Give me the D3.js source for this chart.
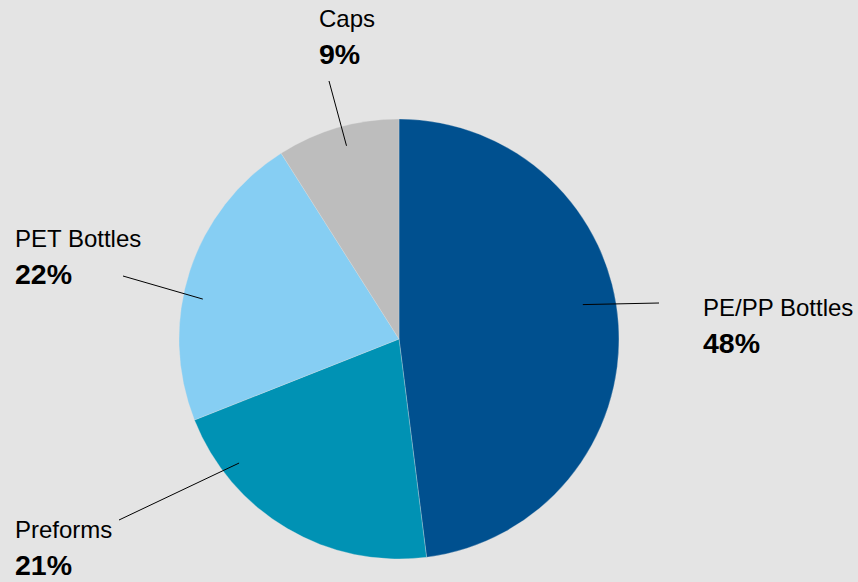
<!DOCTYPE html>
<html>
<head>
<meta charset="utf-8">
<script src="https://cdn.jsdelivr.net/npm/d3@7"></script>
<style>
  html, body { margin: 0; padding: 0; background: #e4e4e4; }
  svg { display: block; font-family: "Liberation Sans", Arial, sans-serif; }
</style>
</head>
<body>
<div id="chart"></div>
<script>
// chart data
var categories = ["PE/PP Bottles", "Preforms", "PET Bottles", "Caps"];
var shares = [48, 21, 22, 9];
var colors = ["#00508f", "#0092b4", "#86cef3", "#bdbdbd"];

// where each label sits, and how the leader line meets the slice
var labelPos = [
  { x: 703, y: 316, lx: 659, ly: 303, da: -7, rr: 0.85 },
  { x: 15, y: 538, lx: 119, ly: 520, da: 21.6, rr: 0.92 },
  { x: 15, y: 247, lx: 123, ly: 276, da: -6.5, rr: 0.91 },
  { x: 319, y: 27, lx: 329, ly: 81, da: 1, rr: 0.91 }
];

var width = 858, height = 582;
var cx = 399, cy = 339, radius = 220;

var svg = d3.select("#chart").append("svg")
  .attr("width", width)
  .attr("height", height);

svg.append("rect")
  .attr("width", width)
  .attr("height", height)
  .attr("fill", "#e4e4e4");

var pie = d3.pie().sort(null).value(function (d) { return d; });
var arcs = pie(shares);

var arc = d3.arc().innerRadius(0).outerRadius(radius);

var g = svg.append("g")
  .attr("transform", "translate(" + cx + "," + cy + ")");

g.selectAll(".slice")
  .data(arcs)
  .enter().append("path")
  .attr("class", "slice")
  .attr("d", arc)
  .attr("fill", function (d, i) { return colors[i]; })
  .attr("stroke", "#e4e4e4")
  .attr("stroke-width", 0.3);

// leader lines
svg.selectAll(".leader")
  .data(arcs)
  .enter().append("line")
  .attr("class", "leader")
  .attr("x1", function (d, i) {
    var a = (d.startAngle + d.endAngle) / 2 + labelPos[i].da * Math.PI / 180;
    return cx + radius * labelPos[i].rr * Math.sin(a);
  })
  .attr("y1", function (d, i) {
    var a = (d.startAngle + d.endAngle) / 2 + labelPos[i].da * Math.PI / 180;
    return cy - radius * labelPos[i].rr * Math.cos(a);
  })
  .attr("x2", function (d, i) { return labelPos[i].lx; })
  .attr("y2", function (d, i) { return labelPos[i].ly; })
  .attr("stroke", "#000")
  .attr("stroke-width", 1);

// labels
var labels = svg.selectAll(".lbl")
  .data(arcs)
  .enter().append("g")
  .attr("class", "lbl")
  .attr("transform", function (d, i) { return "translate(" + labelPos[i].x + "," + labelPos[i].y + ")"; });

labels.append("text")
  .attr("x", 0)
  .attr("y", 0)
  .attr("font-size", 24)
  .attr("fill", "#000")
  .text(function (d, i) { return categories[i]; });

labels.append("text")
  .attr("x", 0)
  .attr("y", 37)
  .attr("font-size", 28.5)
  .attr("font-weight", "bold")
  .attr("fill", "#000")
  .text(function (d) { return d.data + "%"; });
</script>
</body>
</html>
